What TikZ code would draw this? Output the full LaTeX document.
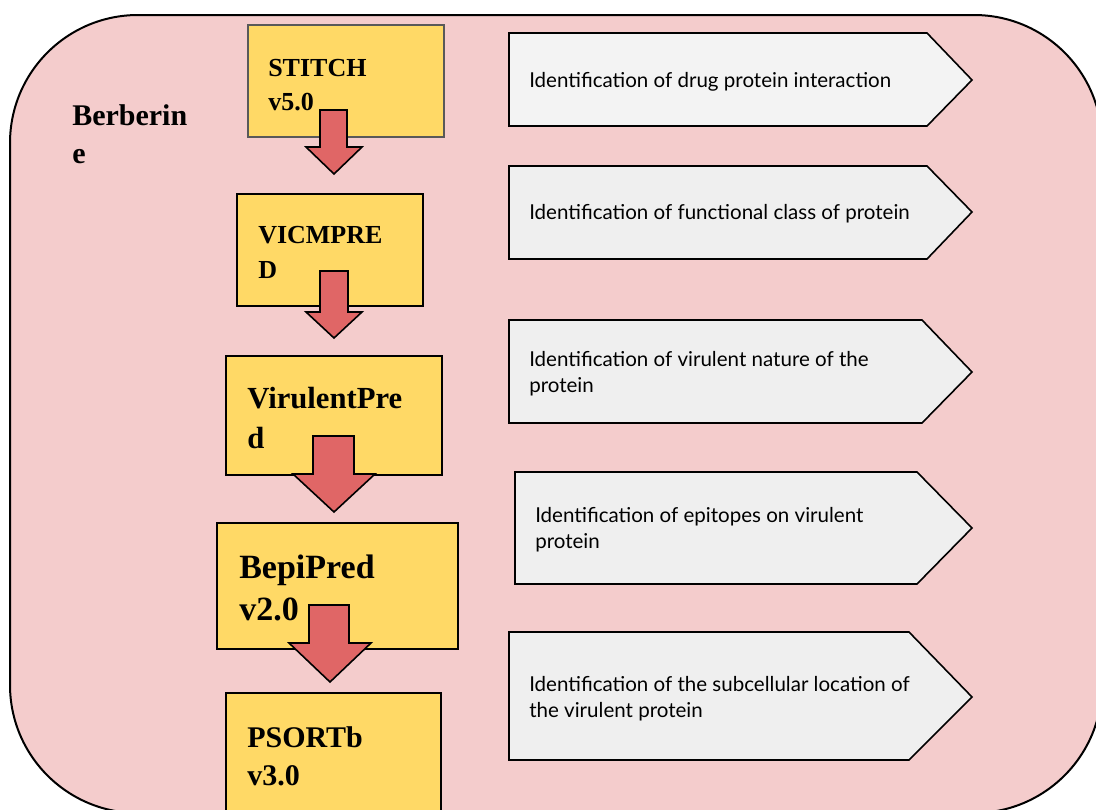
\documentclass[tikz,border=0pt]{standalone}
\usepackage{fontspec}
\setmainfont{Liberation Serif}
\newfontfamily\descfont{Lato}
\definecolor{pinkbg}{HTML}{F4CCCC}
\definecolor{yellowbox}{HTML}{FFD966}
\definecolor{redarrow}{HTML}{E06666}
\definecolor{graybox}{HTML}{EFEFEF}
\definecolor{graybox1}{HTML}{F3F3F3}
\definecolor{stitchedge}{HTML}{595959}
\tikzset{
  toolbox/.style={draw=black, fill=yellowbox, line width=1.2pt},
  blockarrow/.style={draw=black, fill=redarrow, line width=1.2pt, line join=miter},
  descbox/.style={draw=black, fill=graybox, line width=1.2pt, line join=miter},
  tooltext/.style={anchor=base west, inner sep=0pt, align=left, font=\bfseries},
  desctext/.style={anchor=base west, inner sep=0pt, align=left,
    font=\descfont\fontsize{15.4pt}{19.5pt}\selectfont},
}
\begin{document}
\begin{tikzpicture}[x=0.75pt, y=-0.75pt]
\useasboundingbox (0,0) rectangle (1096,810);
\begin{scope}
\clip (0,0) rectangle (1096,810);
\draw[fill=pinkbg, line width=1.5pt, rounded corners=96pt] (10,15) rectangle (1102,813);
% tool boxes
\draw[toolbox, draw=stitchedge] (248,25) rectangle (444,137);
\coordinate (stitch) at (248,25);
\draw[toolbox] (237,194) rectangle (423,306);
\coordinate (vicmpred) at (237,194);
\draw[toolbox] (226,356) rectangle (442,475);
\coordinate (virulent) at (226,356);
\draw[toolbox] (217,523) rectangle (458,649);
\coordinate (bepi) at (217,523);
\draw[toolbox] (226,693) rectangle (441,840);
\coordinate (psort) at (226,693);
% description pentagons
\draw[descbox, fill=graybox1] (509,33) -- (927,33) -- (972,80) -- (927,126) -- (509,126) -- cycle;
\draw[descbox] (509,166) -- (927,166) -- (972,212) -- (927,259) -- (509,259) -- cycle;
\draw[descbox] (509,320) -- (922,320) -- (972,372) -- (922,423) -- (509,423) -- cycle;
\draw[descbox] (515,472) -- (917,472) -- (972,528) -- (917,584) -- (515,584) -- cycle;
\draw[descbox] (509,632) -- (909,632) -- (972,697) -- (909,760) -- (509,760) -- cycle;
\end{scope}
% texts
\node[tooltext, font=\bfseries\fontsize{22.5pt}{28.5pt}\selectfont] (berb) at (72,163) {Berberin\\e};
\node[tooltext, font=\bfseries\fontsize{19.5pt}{25.5pt}\selectfont] (t1) at (268,110) {STITCH\\v5.0};
\node[tooltext, font=\bfseries\fontsize{19.5pt}{26pt}\selectfont] (t2) at (258,278) {VICMPRE\\D};
\node[tooltext, font=\bfseries\fontsize{23pt}{30pt}\selectfont] (t3) at (247,448) {VirulentPre\\d};
\node[tooltext, font=\bfseries\fontsize{25.5pt}{31.5pt}\selectfont] (t4) at (239,620) {BepiPred\\v2.0};
\node[tooltext, font=\bfseries\fontsize{22.5pt}{28.5pt}\selectfont] (t5) at (247,785) {PSORTb\\v3.0};
\node[desctext] (d1) at (529,87) {Identification of drug protein interaction};
\node[desctext] (d2) at (529,219) {Identification of functional class of protein};
\node[desctext] (d3) at (529,392) {Identification of virulent nature of the\\protein};
\node[desctext] (d4) at (535,548) {Identification of epitopes on virulent\\protein};
\node[desctext] (d5) at (529,717) {Identification of the subcellular location of\\the virulent protein};
% block arrows
\draw[blockarrow] (320,110) -- (347,110) -- (347,147) -- (362,147) -- (334,174) -- (306,147) -- (320,147) -- cycle;
\draw[blockarrow] (320,271) -- (348,271) -- (348,312) -- (362,312) -- (334,338) -- (306,312) -- (320,312) -- cycle;
\draw[blockarrow] (313,436) -- (354,436) -- (354,474) -- (375,474) -- (334,512) -- (293,474) -- (313,474) -- cycle;
\draw[blockarrow] (309,605) -- (349,605) -- (349,643) -- (371,643) -- (330,682) -- (289,643) -- (309,643) -- cycle;
\end{tikzpicture}
\end{document}
